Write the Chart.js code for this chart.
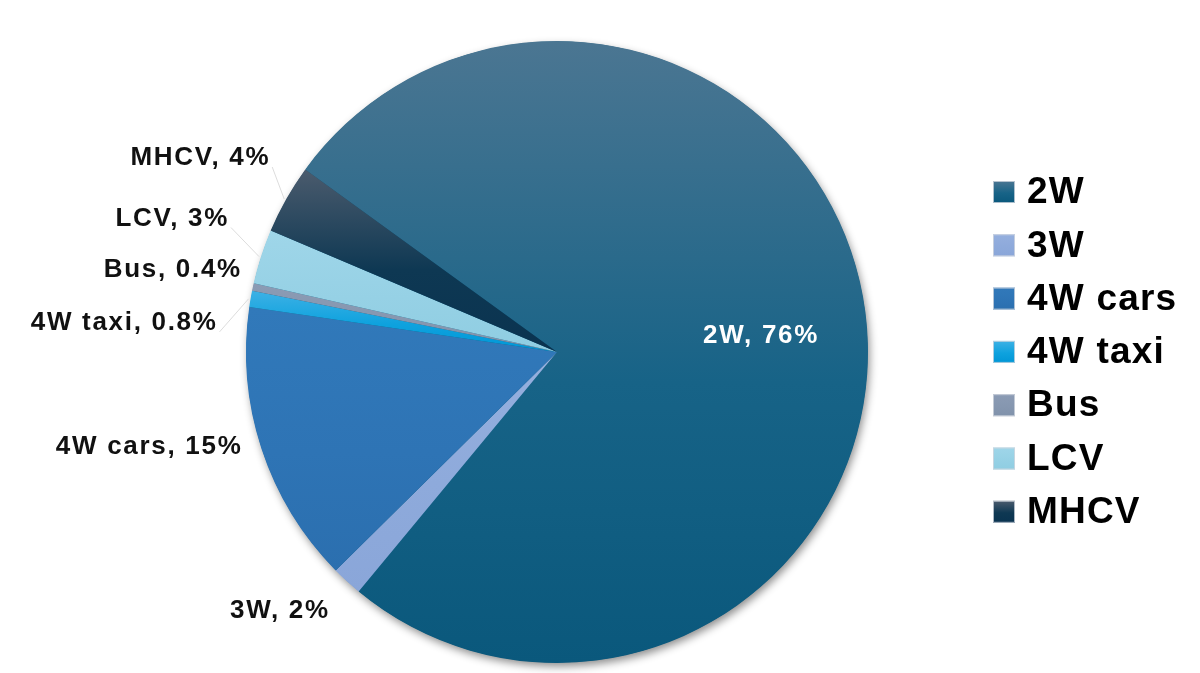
<!DOCTYPE html>
<html>
<head>
<meta charset="utf-8">
<script src="https://cdn.jsdelivr.net/npm/chart.js@4.4.1/dist/chart.umd.min.js"></script>
<style>
  html, body { margin: 0; padding: 0; background: #fff; }
  #wrap { width: 1200px; height: 673px; position: relative; }
</style>
</head>
<body>
<div id="wrap"><canvas id="shareChart"></canvas></div>
<script>
// vehicle segment shares (%)
const categories = ['2W', '3W', '4W cars', '4W taxi', 'Bus', 'LCV', 'MHCV'];
const shares = [76.0, 1.6, 14.7, 0.84, 0.39, 2.84, 3.6];

// gradient stops per slice: top, middle, bottom
const topColors = ['#4b7692', '#95afde', '#3179ba', '#3db1e5', '#8b9bb4', '#9fd6e9', '#4b5b6d'];
const midColors = ['#176387', '#8eaadb', '#2e74b5', '#0ea2de', '#8697b0', '#96d1e5', '#0e3853'];
const bottomColors = ['#0a587c', '#8aa6d9', '#2b6faf', '#0096d6', '#8092ab', '#8fcde2', '#0a3350'];

// label placement relative to the slice's outer edge point (right end of text, middle)
const labelOffsets = [null, [-19, 30], [-21, -2], [-35, 24], [-13, -17], [-34, -38], [-18, -41]];
const leaderLines = [false, false, false, true, false, true, true];

const ROTATION = -54.05;
const FONT = '"Liberation Sans", Arial, sans-serif';

function fmtShare(v) {
  return v < 1 ? v.toFixed(1) : String(Math.round(v));
}

// vertical extent of slice i, so each slice gets its own gradient
function sliceYRange(i, area) {
  const cx = (area.left + area.right) / 2;
  const cy = (area.top + area.bottom) / 2;
  const r = Math.min(area.right - area.left, area.bottom - area.top) / 2;
  const total = shares.reduce((a, b) => a + b, 0);
  let before = 0;
  for (let k = 0; k < i; k++) before += shares[k];
  const start = (ROTATION - 90) * Math.PI / 180 + before / total * Math.PI * 2;
  const end = start + shares[i] / total * Math.PI * 2;
  const ys = [cy, cy + r * Math.sin(start), cy + r * Math.sin(end)];
  const within = a => {
    let t = a;
    while (t < start) t += Math.PI * 2;
    return t <= end;
  };
  if (within(-Math.PI / 2)) ys.push(cy - r);
  if (within(Math.PI / 2)) ys.push(cy + r);
  return [Math.min(...ys), Math.max(...ys)];
}

function sliceFill(context) {
  const chart = context.chart;
  const area = chart.chartArea;
  const i = context.dataIndex;
  if (!area || i === undefined) return midColors[i || 0];
  const [y0, y1] = sliceYRange(i, area);
  const g = chart.ctx.createLinearGradient(0, y0, 0, y1);
  g.addColorStop(0, topColors[i]);
  g.addColorStop(0.55, midColors[i]);
  g.addColorStop(1, bottomColors[i]);
  return g;
}

const pieShadow = {
  id: 'pieShadow',
  beforeDatasetsDraw(chart) {
    const arc = chart.getDatasetMeta(0).data[0];
    if (!arc) return;
    const ctx = chart.ctx;
    ctx.save();
    ctx.shadowColor = 'rgba(0,0,0,0.45)';
    ctx.shadowBlur = 9;
    ctx.shadowOffsetX = 2;
    ctx.shadowOffsetY = 4;
    ctx.fillStyle = '#0a587c';
    ctx.beginPath();
    ctx.arc(arc.x, arc.y, arc.outerRadius - 0.5, 0, Math.PI * 2);
    ctx.fill();
    ctx.restore();
  }
};

const sliceLabels = {
  id: 'sliceLabels',
  afterDatasetsDraw(chart) {
    const ctx = chart.ctx;
    const arcs = chart.getDatasetMeta(0).data;
    ctx.save();
    ctx.font = 'bold 26px ' + FONT;
    ctx.letterSpacing = '1.7px';
    ctx.textBaseline = 'middle';
    arcs.forEach((arc, i) => {
      const mid = (arc.startAngle + arc.endAngle) / 2;
      const R = arc.outerRadius;
      const text = categories[i] + ', ' + fmtShare(shares[i]) + '%';
      if (!labelOffsets[i]) {
        ctx.fillStyle = '#ffffff';
        ctx.textAlign = 'center';
        ctx.fillText(text, arc.x + Math.cos(mid) * R * 0.655 + 2, arc.y + Math.sin(mid) * R * 0.655 + 9);
        return;
      }
      const ex = arc.x + Math.cos(mid) * R;
      const ey = arc.y + Math.sin(mid) * R;
      const tx = ex + labelOffsets[i][0];
      const ty = ey + labelOffsets[i][1];
      if (leaderLines[i]) {
        ctx.strokeStyle = 'rgba(205,205,205,0.7)';
        ctx.lineWidth = 1;
        ctx.beginPath();
        ctx.moveTo(tx + 4, ty + 9);
        ctx.lineTo(ex - 2, ey);
        ctx.stroke();
      }
      ctx.fillStyle = '#111111';
      ctx.textAlign = 'right';
      ctx.fillText(text, tx + 2, ty);
    });
    ctx.restore();
  }
};

const sideLegend = {
  id: 'sideLegend',
  afterDraw(chart) {
    const ctx = chart.ctx;
    const x0 = 993, y0 = 192, step = 53.3, box = 22;
    ctx.save();
    ctx.font = 'bold 37px ' + FONT;
    ctx.letterSpacing = '1.2px';
    ctx.textBaseline = 'middle';
    ctx.textAlign = 'left';
    categories.forEach((cat, i) => {
      const y = y0 + i * step;
      const g = ctx.createLinearGradient(0, y - box / 2, 0, y + box / 2);
      g.addColorStop(0, topColors[i]);
      g.addColorStop(0.55, midColors[i]);
      g.addColorStop(1, bottomColors[i]);
      ctx.fillStyle = g;
      ctx.fillRect(x0, y - box / 2, box, box);
      ctx.strokeStyle = 'rgba(210,215,222,0.8)';
      ctx.lineWidth = 1;
      ctx.strokeRect(x0 + 0.5, y - box / 2 + 0.5, box - 1, box - 1);
      ctx.fillStyle = '#000000';
      ctx.fillText(cat, x0 + 34, y + 1);
    });
    ctx.restore();
  }
};

new Chart(document.getElementById('shareChart'), {
  type: 'pie',
  data: {
    labels: categories,
    datasets: [{
      data: shares,
      backgroundColor: sliceFill,
      borderWidth: 0,
      hoverOffset: 0
    }]
  },
  options: {
    responsive: true,
    maintainAspectRatio: false,
    animation: false,
    rotation: ROTATION,
    layout: { padding: { left: 246, right: 332, top: 41, bottom: 10 } },
    plugins: {
      legend: { display: false },
      tooltip: { enabled: false }
    }
  },
  plugins: [pieShadow, sliceLabels, sideLegend]
});
</script>
</body>
</html>
